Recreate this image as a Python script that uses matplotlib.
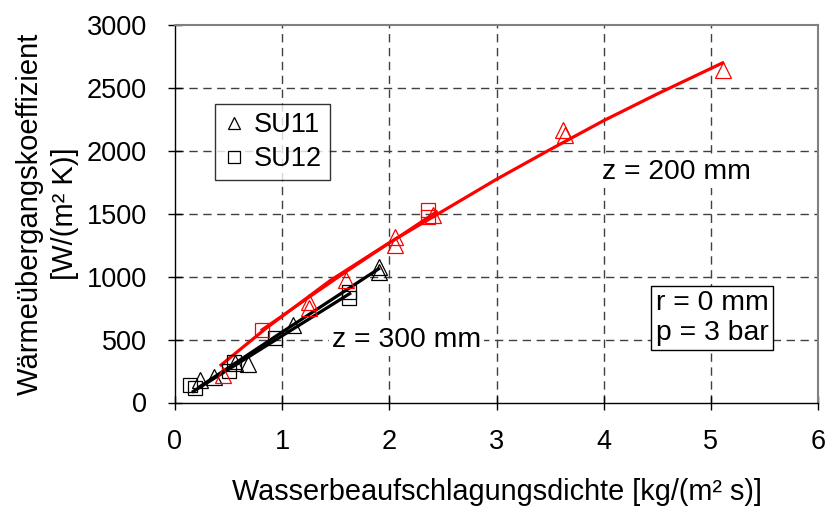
import matplotlib
matplotlib.use("Agg")
import matplotlib.pyplot as plt
from matplotlib.lines import Line2D

plt.rcParams['font.family'] = ['Liberation Sans', 'DejaVu Sans']

# ---- data ----
# z = 200 mm (red)
su11_200_x = [0.45, 1.25, 1.25, 1.60, 2.05, 2.05, 2.41, 3.62, 3.64, 5.11]
su11_200_y = [215, 800, 750, 975, 1318, 1252, 1490, 2166, 2126, 2643]
su12_200_x = [0.81, 2.36, 2.36]
su12_200_y = [578, 1530, 1477]
fit11_200_x = [0.43, 0.85, 1.45, 2.0, 3.0, 3.5, 4.0, 4.5, 5.11]
fit11_200_y = [298, 590, 970, 1270, 1774, 2010, 2240, 2452, 2699]
fit12_200_x = [0.81, 1.6, 2.44]
fit12_200_y = [578, 1040, 1517]

# z = 300 mm (black)
su11_300_x = [0.23, 0.36, 0.56, 0.68, 1.10, 1.90, 1.90]
su11_300_y = [175, 205, 315, 305, 616, 1080, 1040]
su12_300_x = [0.14, 0.19, 0.50, 0.55, 0.93, 1.62, 1.62]
su12_300_y = [139, 115, 250, 320, 515, 881, 828]
fit11_300_x = [0.23, 1.0, 1.90]
fit11_300_y = [125, 560, 1062]
fit12_300_x = [0.17, 1.0, 1.63]
fit12_300_y = [88, 530, 865]

x_ticks = [0, 1, 2, 3, 4, 5, 6]
y_ticks = [0, 500, 1000, 1500, 2000, 2500, 3000]

fig = plt.figure(figsize=(8.25, 5.08), dpi=100)
ax = fig.add_axes([175/825, 1-402.5/508, (818-175)/825, (402.5-25)/508])

# grid
for xv in x_ticks[1:-1]:
    ax.axvline(xv, color='#404040', lw=1.0, ls=(0, (6, 4)), zorder=0)
for yv in y_ticks[1:-1]:
    ax.axhline(yv, color='#404040', lw=1.0, ls=(0, (6, 4)), zorder=0)

# fit lines
ax.plot(fit11_300_x, fit11_300_y, color='black', lw=2.3, zorder=3)
ax.plot(fit12_300_x, fit12_300_y, color='black', lw=2.3, zorder=3)
ax.plot(fit11_200_x, fit11_200_y, color='#ff0000', lw=2.3, zorder=4)
ax.plot(fit12_200_x, fit12_200_y, color='#ff0000', lw=2.0, zorder=4)

mk = dict(ls='none', mfc='none', mew=0.9, zorder=5)
ax.plot(su11_300_x, su11_300_y, marker='^', ms=11, mec='black', **mk)
ax.plot(su12_300_x, su12_300_y, marker='s', ms=9.5, mec='black', **mk)
ax.plot(su11_200_x, su11_200_y, marker='^', ms=11, mec='#ff0000', **mk)
ax.plot(su12_200_x, su12_200_y, marker='s', ms=9.5, mec='#ff0000', **mk)

ax.set_xlim(0, 6)
ax.set_ylim(0, 3000)
ax.set_xticks(x_ticks)
ax.set_yticks(y_ticks)
ax.tick_params(direction='inout', length=10, width=1, labelsize=19.5, colors='black')
ax.tick_params(axis='y', pad=15)
ax.tick_params(axis='x', pad=14)
for s in ['top', 'right']:
    ax.spines[s].set_color('#808080')
    ax.spines[s].set_linewidth(1.5)
for s in ['left', 'bottom']:
    ax.spines[s].set_color('black')
    ax.spines[s].set_linewidth(1.0)

ax.set_xlabel('Wasserbeaufschlagungsdichte [kg/(m² s)]', fontsize=20.8, labelpad=17)
ax.set_ylabel('Wärmeübergangskoeffizient\n[W/(m² K)]', fontsize=21, labelpad=6, linespacing=1.3)

txt_bbox = dict(boxstyle='square,pad=0.1', fc='white', ec='none')
ax.text(4.68, 1832, 'z = 200 mm', fontsize=20.4, ha='center', va='center', bbox=txt_bbox, zorder=2)
ax.text(2.16, 497, 'z = 300 mm', fontsize=20.4, ha='center', va='center', bbox=txt_bbox, zorder=2)
ax.text(5.01, 672, 'r = 0 mm\np = 3 bar', fontsize=20.4, ha='center', va='center',
        linespacing=1.2, zorder=6,
        bbox=dict(boxstyle='square,pad=0.15', fc='white', ec='black', lw=1))

handles = [Line2D([], [], marker='^', ls='none', mfc='none', mec='black', ms=9, mew=0.9),
           Line2D([], [], marker='s', ls='none', mfc='none', mec='black', ms=8, mew=0.9)]
leg = ax.legend(handles, ['SU11', 'SU12'], loc='upper left', bbox_to_anchor=(0.062, 0.791),
                borderaxespad=0, fontsize=19.5, frameon=True, fancybox=False,
                edgecolor='black', handlelength=0.8, handletextpad=0.35,
                borderpad=0.3, labelspacing=0.3)
leg.get_frame().set_linewidth(1)
leg.set_zorder(6)

fig.savefig('out.png', dpi=100)
